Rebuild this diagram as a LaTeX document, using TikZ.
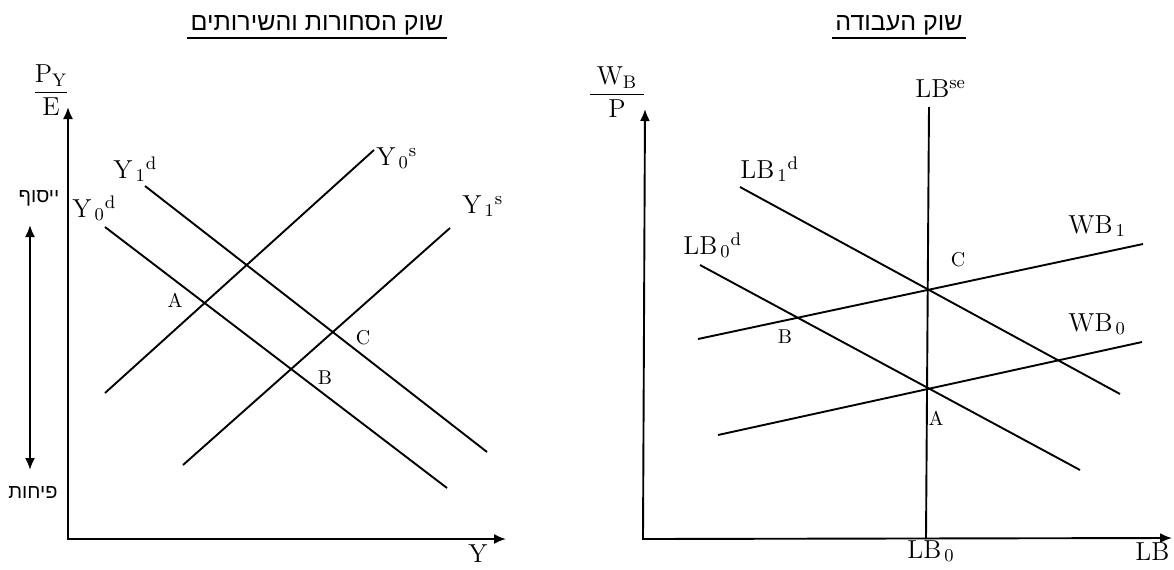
\documentclass[tikz,border=0pt]{standalone}
\usepackage{fontspec}
\usetikzlibrary{arrows.meta}
\newfontfamily\hebfont[Script=Hebrew]{Liberation Sans}
\TeXXeTstate=1
\begin{document}
\begin{tikzpicture}[x=0.5pt,y=-0.5pt,
  curve/.style={line width=0.95pt},
  axis/.style={line width=0.95pt,{Latex[length=6pt,width=5pt]}-{Latex[length=6pt,width=5pt]}},
  big/.style={font=\fontsize{13}{15}\selectfont, inner sep=0pt, anchor=base west},
  frac/.style={font=\fontsize{13}{15}\selectfont, inner sep=0pt},
  ptlab/.style={font=\fontsize{10}{12}\selectfont, inner sep=0pt},
  heb/.style={font=\hebfont\fontsize{10}{12}\selectfont, inner sep=0pt},
  title/.style={font=\hebfont\fontsize{12.5}{14}\selectfont, inner sep=1.5pt},
  uline/.style={line width=0.8pt},
]
\useasboundingbox (0,0) rectangle (1174,569);

% ---------- titles ----------
\node[title] (t1) at (317,25) {\beginR שוק הסחורות והשירותים\endR};
\draw[uline] (t1.south west) -- (t1.south east);
\node[title] (t2) at (899,25) {\beginR שוק העבודה\endR};
\draw[uline] (t2.south west) -- (t2.south east);

% ---------- left graph ----------
\coordinate (L0) at (68,539);
\coordinate (LYt) at (68,107);
\coordinate (LXt) at (506,539);
\draw[axis] (LYt) -- (L0) -- (LXt);

\node[frac] (pye) at (51,90) {$\displaystyle\frac{\mathrm{P_Y}}{\mathrm{E}}$};
\node[big] (ylab) at (468,562) {Y};

\coordinate (y0da) at (105,227); \coordinate (y0db) at (447,488);
\coordinate (y1da) at (145,186); \coordinate (y1db) at (487,452);
\coordinate (y0sa) at (105,393); \coordinate (y0sb) at (374,150);
\coordinate (y1sa) at (183,465); \coordinate (y1sb) at (450,228);
\draw[curve] (y0da) -- (y0db);
\draw[curve] (y1da) -- (y1db);
\draw[curve] (y0sa) -- (y0sb);
\draw[curve] (y1sa) -- (y1sb);

\node[big] (y0dl) at (72,217) {Y$_{\,0}{}^{\mathrm{d}}$};
\node[big] (y1dl) at (113,178) {Y$_{\,1}{}^{\mathrm{d}}$};
\node[big] (y0sl) at (376,165) {Y$_{\,0}{}^{\mathrm{s}}$};
\node[big] (y1sl) at (462,213) {Y$_{\,1}{}^{\mathrm{s}}$};

\node[ptlab] (pA1) at (175,300) {A};
\node[ptlab] (pB1) at (325,378) {B};
\node[ptlab] (pC1) at (363,338) {C};

\node[heb] (up) at (39,198) {\beginR ייסוף\endR};
\node[heb] (down) at (33,492) {\beginR פיחות\endR};
\coordinate (arT) at (30,225);
\coordinate (arB) at (30,470);
\draw[axis] (arT) -- (arB);

% ---------- right graph ----------
\coordinate (R0) at (643,539);
\coordinate (RYt) at (645,109);
\coordinate (RXt) at (1172,538);
\draw[axis] (RYt) -- (R0) -- (RXt);

\node[frac] (wbp) at (617,92) {$\displaystyle\frac{\;\mathrm{W_B}\;}{\mathrm{P}}$};

\coordinate (lsa) at (929,107); \coordinate (lsb) at (926,539);
\draw[curve] (lsa) -- (lsb);
\node[big] (lsl) at (915,97) {LB$^{\mathrm{se}}$};
\node[big] (lb0) at (907,558) {LB$_{\,0}$};
\node[big] (lbx) at (1135,560) {LB};

\coordinate (l1da) at (740,187); \coordinate (l1db) at (1120,394);
\coordinate (l0da) at (700,265); \coordinate (l0db) at (1080,470);
\coordinate (w1a) at (698,339); \coordinate (w1b) at (1143,244);
\coordinate (w0a) at (718,435); \coordinate (w0b) at (1142,342);
\draw[curve] (l1da) -- (l1db);
\draw[curve] (l0da) -- (l0db);
\draw[curve] (w1a) -- (w1b);
\draw[curve] (w0a) -- (w0b);

\node[big] (l1dl) at (740,178) {LB$_{\,1}{}^{\mathrm{d}}$};
\node[big] (l0dl) at (683,254) {LB$_{\,0}{}^{\mathrm{d}}$};
\node[big] (w1l) at (1068,233) {WB$_{\,1}$};
\node[big] (w0l) at (1068,331) {WB$_{\,0}$};

\node[ptlab] (pB2) at (785,337) {B};
\node[ptlab] (pC2) at (958,260) {C};
\node[ptlab] (pA2) at (936,418) {A};
\end{tikzpicture}
\end{document}
